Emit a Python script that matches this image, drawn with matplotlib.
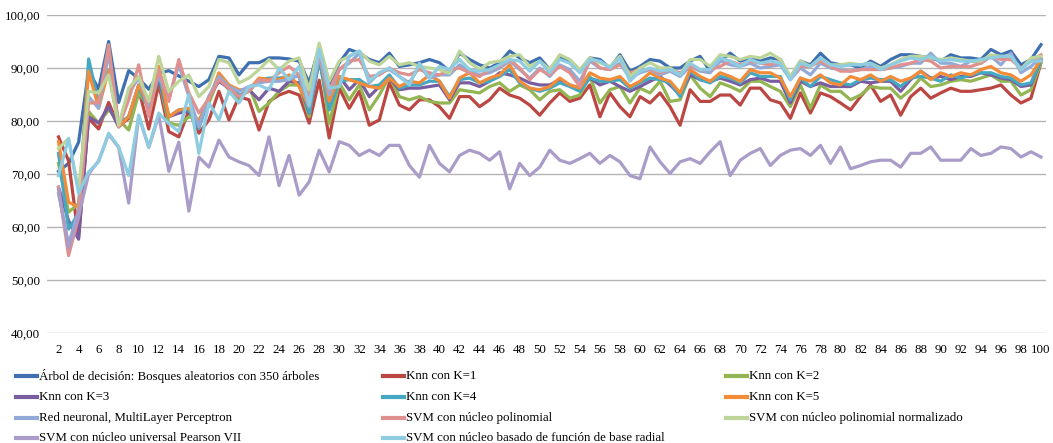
import matplotlib
matplotlib.use("Agg")
import matplotlib.pyplot as plt
from matplotlib.lines import Line2D

plt.rcParams['font.family'] = ['Liberation Serif', 'DejaVu Serif']

# Número de atributos en el eje X
x = list(range(2, 101))

rf = [70.5, 72, 76, 89.5, 86, 95, 83.5, 89.5, 88, 86, 89, 89.5, 88.5, 87.5,
      86.5, 87.8, 92.2, 91.9, 88.7, 91, 91, 91.9, 91.9, 91.7, 91.3, 87.2, 94, 87,
      91, 93.5, 92.8, 91.6, 91, 92.8, 90.3, 90.6, 91, 91.6, 91, 89.4, 92.8, 91.6, 90.6,
      90, 91, 93.2, 91.9, 91, 91.9, 89.7, 92.2, 91, 89.4, 91.9, 91.6, 90, 92.5,
      89.4, 90.3, 91.6, 91.3, 90, 90, 91.3, 92.2, 89.4, 91.3, 92.8, 91.3, 91.9, 91.3, 91.9,
      91.6, 88.1, 91.3, 90.6, 92.8, 91, 90.6, 90.6, 90, 91.3, 90.3, 91.6, 92.5, 92.5,
      92.2, 91.9, 91.3, 92.5, 91.9, 91.9, 91.6, 93.5, 92.5, 93.2, 90.6, 91.6, 94.4]

knn1 = [77, 72.5, 58, 80.5, 78.5, 83.5, 79, 80.5, 86, 78.5, 87, 78, 77, 82,
        77.7, 80.2, 85.6, 80.2, 84.6, 84, 78.3, 83.7, 84.9, 85.6, 84.9, 79.6, 87.7, 76.8,
        86.2, 82.4, 85.6, 79.2, 80.2, 87.2, 83, 82.1, 84, 84, 82.7, 80.5, 84.6, 84.6, 82.7,
        84, 86.2, 84.9, 84.3, 83, 81.1, 83.4, 85.3, 83.7, 84.3, 86.8, 80.8, 85.3, 82.7,
        80.8, 84.6, 83.4, 85.3, 82.7, 79.2, 85.9, 83.7, 83.7, 84.9, 84.9, 83, 86.2, 86.2, 84,
        83.4, 80.5, 85.3, 81.5, 85.3, 84.6, 83.4, 82.1, 84.6, 86.8, 83.7, 84.9, 81.1, 84.6,
        86.2, 84.3, 85.3, 86.2, 85.6, 85.6, 85.9, 86.2, 86.8, 84.9, 83.4, 84.3, 91]

knn2 = [72, 62.8, 64.4, 81.8, 79.6, 82.1, 80.2, 78.3, 85.3, 82.7, 87.8, 79.6, 79.2, 80.8,
        80.2, 83.4, 88.1, 85.9, 83.7, 86.5, 81.8, 83.4, 85.6, 86.8, 86.8, 80.8, 92.8, 79.5,
        87.2, 84, 86.8, 82.1, 84.9, 88.4, 84.6, 84, 84.6, 83.7, 83.4, 83.4, 85.9, 85.6, 85.3,
        86.5, 87.2, 85.6, 86.8, 85.9, 84, 85.6, 85.9, 84.3, 84.9, 88.4, 83.4, 85.9, 86.5,
        83.4, 86.2, 85.3, 87.5, 83.7, 84, 88.7, 86.2, 84.6, 87.2, 86.5, 85.6, 87.5, 87.5, 86.5,
        85.6, 82.7, 86.8, 82.4, 86.8, 85.6, 85.6, 84, 84.9, 86.5, 86.2, 86.2, 84.3, 85.9,
        88.1, 86.5, 86.8, 87.5, 87.8, 87.5, 88.1, 88.7, 87.5, 87.5, 84.9, 85.9, 91]

knn3 = [67.5, 61.2, 57.7, 80.8, 79.6, 82.7, 78.9, 80.8, 86.8, 83, 87.8, 80.8, 81.5, 81.8,
        79.6, 84.6, 87.5, 86.2, 84.6, 85.9, 84, 86.2, 85.6, 87.5, 87.2, 81.5, 91.3, 83.4,
        88.4, 85.9, 87.8, 84.6, 86.5, 88.1, 85.9, 86.2, 86.2, 86.5, 86.8, 84, 87.2, 87.2, 86.5,
        87.5, 89.1, 88.7, 88.1, 87.2, 86.8, 86.8, 87.8, 86.8, 86.2, 88.1, 86.8, 87.5, 86.5,
        85.6, 86.5, 87.5, 88.4, 86.8, 84.9, 88.7, 87.8, 87.5, 88.1, 87.5, 86.8, 87.8, 88.1, 87.5,
        87.5, 83.4, 87.5, 86.5, 87.2, 86.5, 86.5, 86.5, 87.5, 87.2, 87.5, 87.5, 85.6, 87.8,
        89.4, 88.1, 88.4, 87.8, 88.4, 88.4, 89.1, 88.7, 88.1, 87.8, 86.5, 86.8, 91.6]

knn4 = [73.9, 59.6, 62.5, 91.7, 83.4, 89.7, 79.6, 80.8, 86.5, 82.1, 88.7, 80.8, 82.1, 82.1,
        78.6, 84.3, 88.1, 86.5, 84.9, 85.6, 87.8, 88.1, 88.1, 88.4, 88.4, 81.5, 91.6, 82.1,
        87.5, 87.8, 87.8, 86.5, 86.8, 88.7, 86.2, 86.8, 86.8, 87.5, 87.5, 84.6, 87.8, 88.1, 87.2,
        87.5, 88.4, 89.7, 87.2, 86.2, 85.6, 86.2, 87.2, 86.5, 85.6, 88.1, 87.5, 87.5, 87.8,
        86.2, 87.2, 88.1, 87.8, 87.2, 84.6, 89.4, 87.8, 87.2, 88.4, 88.1, 87.2, 89.1, 88.4, 88.4,
        88.4, 84, 88.1, 86.5, 88.4, 87.8, 87.2, 86.8, 87.8, 88.1, 87.8, 87.8, 86.5, 88.1,
        88.4, 88.1, 87.5, 88.7, 88.1, 88.7, 89.1, 89.1, 88.4, 88.1, 86.8, 87.2, 91.6]

knn5 = [76.1, 64.7, 63.7, 89.4, 82.4, 89.7, 78.9, 80.8, 86.8, 83, 90.3, 80.8, 82.1, 82.4,
        79.9, 84, 89.1, 86.8, 85.9, 85.9, 88.1, 87.8, 87.8, 88.7, 86.5, 82.7, 92.5, 83.7,
        88.4, 87.8, 87.2, 86.5, 86.2, 88.1, 86.5, 87.5, 87.2, 88.7, 87.5, 84.3, 88.1, 89.1, 87.2,
        88.1, 88.7, 90.6, 87.5, 86.2, 85.9, 86.5, 88.1, 86.8, 86.2, 89.1, 88.1, 87.8, 88.4,
        86.5, 87.5, 89.1, 88.1, 87.5, 85.3, 89.7, 88.4, 87.5, 89.1, 88.4, 87.5, 89.7, 89.1, 89.1,
        88.1, 84.6, 88.1, 87.5, 88.7, 87.2, 86.8, 88.4, 87.8, 88.7, 87.5, 88.4, 87.5, 88.1,
        89.4, 87.8, 89.1, 88.4, 89.1, 88.7, 89.7, 90.3, 89.1, 88.7, 87.5, 88.7, 91.6]

mlp = [66.3, 56.8, 63.1, 84.6, 82.4, 92.8, 79.2, 85.3, 88.1, 83, 88.4, 84.3, 90.6, 84.6,
       78.9, 84.6, 88.4, 86.5, 85.6, 86.5, 87.2, 87.5, 87.5, 87.8, 88.7, 82.7, 92.2, 84.9,
       89.7, 90.9, 92.8, 87.2, 89.1, 89.7, 88.4, 87.2, 90.3, 88.1, 88.7, 88.7, 90.6, 89.4, 88.7,
       89.1, 90, 91.3, 89.7, 88.1, 90, 88.4, 90.6, 89.7, 87.5, 91.3, 90, 89.7, 90.9,
       88.1, 89.1, 89.7, 88.7, 89.4, 88.4, 90.3, 89.4, 89.1, 91.3, 90.6, 90.3, 90.9, 90, 90.3,
       90.6, 87.8, 90, 88.7, 90.9, 90, 89.7, 89.4, 89.7, 90.3, 89.7, 90, 90.3, 90.9,
       90.9, 92.8, 90.9, 90.9, 90.3, 91.3, 90.9, 92.2, 90.6, 92.8, 89.1, 90.3, 91.9]

svm_poly = [67.5, 54.6, 61.8, 83.4, 83.4, 94.4, 78.9, 84, 90.6, 80.8, 89.7, 83.7, 91.6, 85.3,
            81.5, 84.3, 87.8, 86.2, 84.6, 85.6, 87.8, 87.5, 89.1, 90.3, 88.7, 84.6, 92.8, 85.9,
            89.7, 91.3, 91.6, 88.4, 88.7, 90, 89.1, 88.7, 89.7, 89.1, 88.7, 89.7, 90, 89.1, 88.4,
            89.7, 90.3, 91.6, 90, 87.8, 89.7, 88.7, 90.3, 89.1, 86.5, 91.9, 90, 89.7, 90.6,
            89.1, 89.7, 89.7, 89.1, 89.7, 89.1, 90.3, 89.7, 89.7, 90.3, 91.3, 90.6, 91.3, 90.9, 90.6,
            91.3, 88.1, 90.3, 90.3, 91.3, 90.3, 89.4, 89.4, 89.7, 89.7, 89.7, 90, 90.6, 90.9,
            91.6, 91.3, 90, 90.3, 90.3, 90.3, 90.9, 92.2, 91.6, 91.6, 90, 91.3, 92.5]

svm_poly_norm = [74.8, 76.7, 66.9, 85.6, 85.3, 88.7, 79.2, 86.2, 88.4, 83.7, 92.2, 85.6, 87.5, 88.7,
                 84.6, 86.5, 91.6, 91, 87.2, 88.1, 89.7, 91.6, 89.7, 91.3, 91.9, 85.9, 94.7, 87.5,
                 91.3, 92.2, 93.2, 91.3, 90.6, 92.2, 90.6, 91, 90.3, 90, 89.7, 89, 93.2, 91, 89.7,
                 91, 91.3, 92.2, 92.5, 90.3, 91.3, 89.7, 92.5, 91.6, 89.7, 91.9, 91, 90.3, 92.2,
                 88.4, 90, 91, 90, 90, 88.7, 91.6, 91.6, 90.3, 92.5, 92.2, 91.6, 92.2, 91.9, 92.8,
                 91.6, 88.4, 91.3, 90.3, 91.9, 90.6, 90.6, 90.9, 90.6, 90.9, 90, 90.6, 91.6, 92.2,
                 92.2, 91.9, 91.6, 91.9, 91.6, 91.3, 91.3, 92.5, 92.2, 92.2, 89.7, 91.9, 92.2]

svm_pearson = [67, 56, 62, 70, 72.5, 77.5, 75, 64.5, 81, 75, 81, 70.5, 76, 63,
               73.2, 71.3, 76.4, 73.2, 72.3, 71.6, 69.7, 77, 67.8, 73.5, 66, 68.5, 74.5, 70.4,
               76.1, 75.4, 73.5, 74.5, 73.5, 75.4, 75.4, 71.6, 69.4, 75.4, 72, 70.4, 73.5, 74.5, 73.9,
               72.6, 74.2, 67.2, 72, 69.7, 71.3, 74.5, 72.6, 72, 72.9, 73.9, 72, 73.5, 72.3,
               69.7, 69.1, 75.1, 72.3, 70.1, 72.3, 72.9, 72, 74.2, 76.1, 69.7, 72.6, 73.9, 74.8, 71.6,
               73.5, 74.5, 74.8, 73.5, 75.4, 72, 75.1, 71, 71.6, 72.3, 72.6, 72.6, 71.3, 73.9,
               73.9, 75.1, 72.6, 72.6, 72.6, 74.8, 73.5, 73.9, 75.1, 74.8, 73.2, 74.2, 73.2]

svm_rbf = [69.7, 76.7, 66.3, 70.4, 72.3, 77.7, 75.1, 69.7, 81.1, 75.1, 81.5, 79.5, 78, 85,
           73.9, 83.4, 80.2, 85.6, 83.4, 86.5, 86.8, 85.9, 90, 87.8, 90.3, 83, 93.5, 86.2,
           86.5, 92.2, 93.2, 87.5, 89.1, 90, 88.4, 86.8, 90.9, 88.1, 90.3, 89.7, 91.6, 89.7, 89.4,
           89.7, 90.6, 91.6, 91.3, 89.4, 91.3, 89.1, 91.6, 90.9, 89.1, 91.6, 91.3, 90, 91.9,
           87.5, 89.4, 90, 89.4, 89.7, 88.7, 90.9, 89.7, 89.7, 91.9, 91.3, 90.3, 91.6, 90.9, 91.3,
           90.9, 87.8, 90.9, 90.3, 91.9, 90.6, 90.3, 90.6, 90.6, 90.9, 89.7, 90.6, 91.3, 91.9,
           91.6, 92.2, 91.3, 91.6, 91.3, 91.3, 91.6, 91.9, 92.2, 92.2, 89.7, 91.3, 91.3]

labels = [
    "Árbol de decisión: Bosques aleatorios con 350 árboles",
    "Knn con K=1", "Knn con K=2", "Knn con K=3", "Knn con K=4", "Knn con K=5",
    "Red neuronal, MultiLayer Perceptron",
    "SVM con núcleo polinomial",
    "SVM con núcleo polinomial normalizado",
    "SVM con núcleo universal Pearson VII",
    "SVM con núcleo basado de función de base radial",
]
series = [rf, knn1, knn2, knn3, knn4, knn5, mlp, svm_poly, svm_poly_norm, svm_pearson, svm_rbf]
colors = ['#3E6FB0', '#BC4642', '#93B552', '#7A5CA0', '#44A8C2', '#F28C38',
          '#93AAD8', '#DE918F', '#BDD598', '#AA9CC8', '#8ECDE1']

W, H = 1053, 443
fig = plt.figure(figsize=(W / 100, H / 100), dpi=100)
ax = fig.add_axes([47 / W, 1 - 333 / H, (1046 - 47) / W, (333 - 15) / H])

for vals, c, lab in zip(series, colors, labels):
    ax.plot(x, vals, color=c, lw=2.3, label=lab)

ax.set_ylim(40, 100)
ax.set_xlim(0.85, 100.5)
ax.set_yticks(range(40, 101, 10))
ax.set_yticklabels([f"{v:.2f}".replace('.', ',') for v in range(40, 101, 10)], fontsize=9.3)
ax.set_xticks(range(2, 101, 2))
ax.set_xticklabels([str(v) for v in range(2, 101, 2)], fontsize=9.3)
ax.tick_params(length=0)
ax.tick_params(axis='x', pad=8)
ax.tick_params(axis='y', pad=5)
ax.grid(axis='y', color='#B4B4B4', lw=1)
ax.set_axisbelow(True)
for s in ax.spines.values():
    s.set_visible(False)

# leyenda en tres columnas, orden por filas como en Excel
col_x = [16, 383, 726]
row_y = [376, 397, 418, 438]
for i, (lab, c) in enumerate(zip(labels, colors)):
    px = col_x[i % 3]
    py = row_y[i // 3]
    fig.add_artist(Line2D([px / W, (px + 21) / W], [1 - py / H, 1 - py / H],
                          color=c, lw=3, transform=fig.transFigure))
    fig.text((px + 23) / W, 1 - py / H, lab, fontsize=9.3, va='center', ha='left')

fig.savefig("out.png", dpi=100)
